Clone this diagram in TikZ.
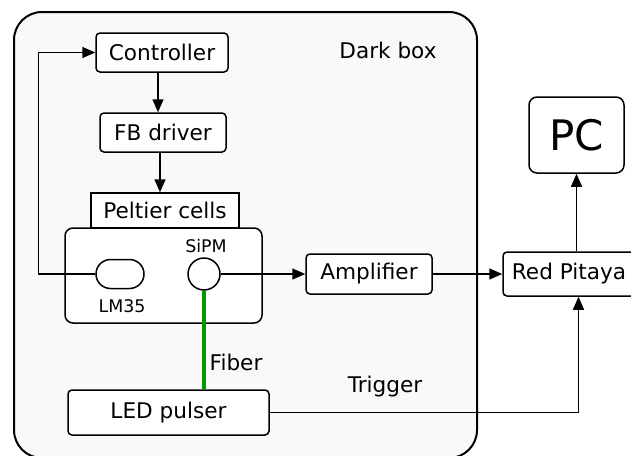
\documentclass[tikz,border=0pt]{standalone}
\usepackage{fontspec}
\setmainfont{DejaVu Sans}
\usetikzlibrary{arrows.meta,shapes.misc}
\definecolor{boxgray}{RGB}{249,249,249}
\definecolor{fibergreen}{RGB}{0,153,0}
\begin{document}
\begin{tikzpicture}[x=0.5pt,y=-0.5pt,line width=0.75pt,
		font=\fontsize{10.8}{13}\selectfont,
		blk/.style={draw,fill=white,rounded corners=2pt,inner sep=0pt},
		arr/.style={-{Triangle[length=6.5pt,width=5.5pt]}}]
	\useasboundingbox (0,0) rectangle (631,455);
	\draw[fill=boxgray,line width=1pt,rounded corners=14pt] (14,12) rectangle (477,458);
	\foreach \x/\y/\w/\h/\nm/\texn in {162/52.5/132/39/ctrl/Controller,
		163/132.5/126/39/fb/FB driver,369/274/126/40/amp/Amplifier,
		569/274/132/44/rp/Red Pitaya,168.5/412.5/201/45/led/LED pulser}
	\path (\x,\y) node[blk,minimum width=\w/2*1pt,minimum height=\h/2*1pt](\nm){\texn};
	\path (165,210.5) node[draw,fill=white,inner sep=0pt,minimum width=74pt,
		minimum height=17.5pt](pelt){Peltier cells};
	\path (163.5,275.5) node[draw,fill=white,rounded corners=4pt,minimum width=98.5pt,
		minimum height=47.5pt](hold){};
	\path (576.5,135) node[blk,rounded corners=4pt,minimum width=47.5pt,
		minimum height=38pt,font=\fontsize{21}{25}\selectfont](pc){PC};
	\path (120,274) node[draw,rounded rectangle,inner sep=0pt,minimum width=24pt,
		minimum height=14.5pt](lm){};
	\path (204,274) node[draw,circle,inner sep=0pt,minimum size=16pt](sipm){};
	\foreach \x/\y/\nm/\texn in {206/246/sipmlab/SiPM,122/306/lmlab/LM35}
	\path (\x,\y) node[font=\fontsize{8.7}{10}\selectfont](\nm){\texn};
	\foreach \x/\y/\nm/\texn in {388/50/darklab/Dark box,236/362/fiblab/Fiber,
		385/387/triglab/Trigger}
	\path (\x,\y) node(\nm){\texn};
	\draw[arr] ([xshift=-2pt]ctrl.south) -- ([xshift=-2pt]ctrl.south |- fb.north);
	\draw[arr] ([xshift=-1.5pt]fb.south) -- ([xshift=-1.5pt]fb.south |- pelt.north);
	\draw[arr] (lm.west) -- ++(-57,0) |- (ctrl.west);
	\draw[arr] (sipm.east) -- (amp.west);
	\draw[arr] (amp.east) -- (rp.west);
	\draw[arr] (pc.south |- rp.north) -- (pc.south);
	\draw[arr] (led.east) -| ([xshift=1pt]pc.south |- rp.south);
	\draw[fibergreen,line width=1.7pt] (sipm.south) -- (sipm.south |- led.north);
\end{tikzpicture}
\end{document}
